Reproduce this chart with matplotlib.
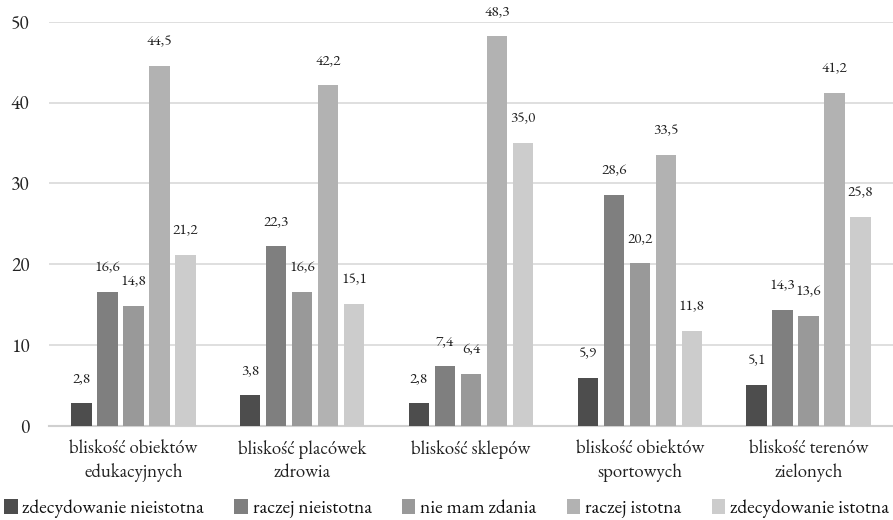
import matplotlib
matplotlib.use("Agg")
import matplotlib.pyplot as plt
import numpy as np
from matplotlib import font_manager as fm

categories = ["bliskość obiektów\nedukacyjnych", "bliskość placówek\nzdrowia", "bliskość sklepów",
              "bliskość obiektów\nsportowych", "bliskość terenów\nzielonych"]
series_names = ["zdecydowanie nieistotna", "raczej nieistotna", "nie mam zdania",
                "raczej istotna", "zdecydowanie istotna"]
zdecydowanie_nieistotna = [2.8, 3.8, 2.8, 5.9, 5.1]
raczej_nieistotna = [16.6, 22.3, 7.4, 28.6, 14.3]
nie_mam_zdania = [14.8, 16.6, 6.4, 20.2, 13.6]
raczej_istotna = [44.5, 42.2, 48.3, 33.5, 41.2]
zdecydowanie_istotna = [21.2, 15.1, 35.0, 11.8, 25.8]
series = [zdecydowanie_nieistotna, raczej_nieistotna, nie_mam_zdania, raczej_istotna, zdecydowanie_istotna]
colors = ["#4d4d4d", "#7f7f7f", "#999999", "#b2b2b2", "#cccccc"]
yticks = [0, 10, 20, 30, 40, 50]

available = set(f.name for f in fm.fontManager.ttflist)
if "EB Garamond" in available:
    FAM = ['EB Garamond', 'Liberation Serif', 'DejaVu Serif']
else:
    FAM = ['Liberation Serif', 'DejaVu Serif']
plt.rcParams['font.family'] = FAM

fig = plt.figure(figsize=(8.93, 5.2), dpi=100)
ax = fig.add_axes([0.0549, 0.181, 0.9451, 0.777])

x = np.arange(len(categories))
slot = 0.154
width = 0.12
for i, (vals, name, c) in enumerate(zip(series, series_names, colors)):
    pos = x + (i - 2) * slot
    ax.bar(pos, vals, width=width, color=c, label=name, zorder=3)
    for xp, v in zip(pos, vals):
        ax.annotate(f"{v:.1f}".replace(".", ","), (xp, v), xytext=(0, 12),
                    textcoords="offset points", ha="center", va="bottom",
                    fontsize=11, color="#222222", family=FAM)

ax.set_xlim(-0.5, 4.5)
ax.set_ylim(0, 50)
ax.set_yticks(yticks)
ax.set_yticklabels([str(t) for t in yticks], fontsize=14, family=FAM)
ax.set_xticks(x)
ax.set_xticklabels(categories, fontsize=13.5, linespacing=1.35, family=FAM)
ax.tick_params(axis='both', length=0, colors="#222222")
ax.tick_params(axis='y', pad=14)
ax.tick_params(axis='x', pad=10)
ax.yaxis.grid(True, color="#d9d9d9", linewidth=1.2, zorder=0)
for s in ["top", "right", "left"]:
    ax.spines[s].set_visible(False)
ax.spines["bottom"].set_color("#d0d0d0")
ax.spines["bottom"].set_linewidth(1.5)

handles, labels = ax.get_legend_handles_labels()
leg = fig.legend(handles, labels, loc="lower center", bbox_to_anchor=(0.5, -0.03), ncol=5, frameon=False,
                 prop={'family': FAM, 'size': 14}, handlelength=0.7, handleheight=0.85,
                 handletextpad=0.25, columnspacing=1.55)
for t in leg.get_texts():
    t.set_color("#111111")
    t.set_fontfamily(FAM)

fig.savefig("out.png", dpi=100)
